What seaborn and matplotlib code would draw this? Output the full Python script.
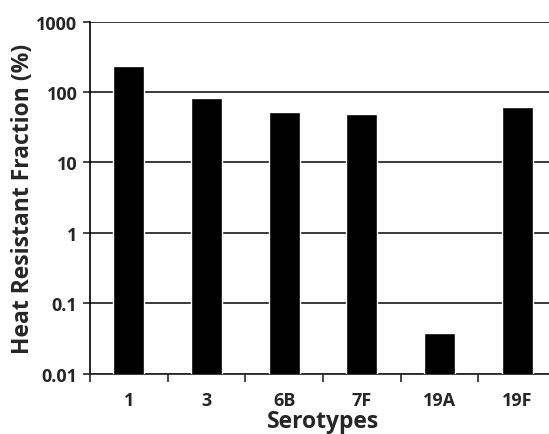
import matplotlib.pyplot as plt
import pandas as pd
import seaborn as sns

# Heat resistant fraction per serotype
serotypes = ["1", "3", "6B", "7F", "19A", "19F"]
fraction_pct = [232, 81, 52, 48, 0.0375, 61]

df = pd.DataFrame({"Serotype": serotypes, "Fraction": fraction_pct})

sns.set_style("white")
plt.rcParams["font.family"] = ["Open Sans", "DejaVu Sans"]
plt.rcParams["font.weight"] = "bold"

fig = plt.figure(figsize=(5.49, 4.35), dpi=100)
ax = fig.add_axes([90 / 549, 60.5 / 435, 466 / 549, 352 / 435])

sns.barplot(data=df, x="Serotype", y="Fraction", color="black",
            width=0.4, saturation=1, ax=ax, zorder=3, log_scale=(False, True))

ax.set_yscale("log")
ax.set_ylim(0.01, 1000)
ax.set_xlim(-0.5, 5.5)
ax.set_yticks([0.01, 0.1, 1, 10, 100, 1000])
ax.set_yticklabels(["0.01", "0.1", "1", "10", "100", "1000"])
ax.minorticks_off()
ax.set_xticks(range(len(serotypes)))
ax.set_xticklabels(serotypes)
ax.set_xticks([i - 0.5 for i in range(len(serotypes) + 1)], minor=True)

# horizontal grid at each decade
ax.yaxis.grid(True, color="#2b2b2b", linewidth=1.3, zorder=0)
ax.xaxis.grid(False)

for side in ["top", "right"]:
    ax.spines[side].set_visible(False)
ax.spines["left"].set_color("black")
ax.spines["left"].set_linewidth(1.2)
ax.spines["bottom"].set_color("#2b2b2b")
ax.spines["bottom"].set_linewidth(1.3)

ax.tick_params(axis="y", which="major", left=True, length=5, width=1.2,
               labelsize=13, pad=4)
ax.tick_params(axis="x", which="major", bottom=False, labelsize=13, pad=9)
ax.tick_params(axis="x", which="minor", bottom=True, length=6, width=1.2)
for lab in ax.get_xticklabels() + ax.get_yticklabels():
    lab.set_fontweight("bold")

ax.set_xlabel("Serotypes", fontsize=16.5, fontweight="bold", labelpad=0)
ax.set_ylabel("Heat Resistant Fraction (%)", fontsize=16.5, fontweight="bold",
              labelpad=1)

fig.savefig("out.png", dpi=100)
